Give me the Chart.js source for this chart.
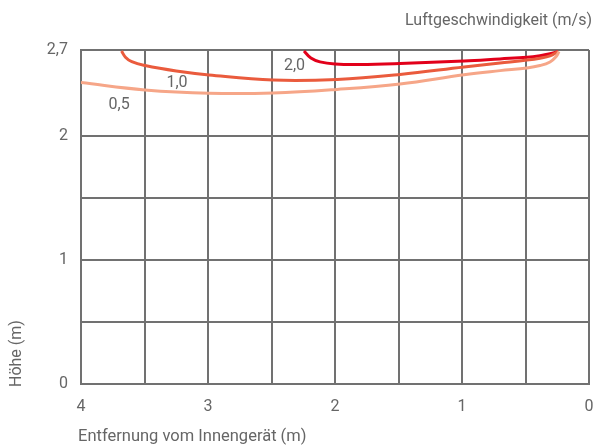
<!DOCTYPE html>
<html>
<head>
<meta charset="utf-8">
<script src="https://cdn.jsdelivr.net/npm/chart.js@4.4.1/dist/chart.umd.min.js"></script>
<style>
  html, body { margin: 0; padding: 0; background: #fff; }
</style>
</head>
<body>
<canvas id="chart" width="594" height="448"></canvas>
<script>
// Tick values (grid lines) and the ones that get a label
const xTicks = [0, 0.5, 1, 1.5, 2, 2.5, 3, 3.5, 4];
const xLabelled = [0, 1, 2, 3, 4];
const yTicks = [0, 0.5, 1, 1.5, 2, 2.7];
const yLabelled = [0, 1, 2, 2.7];

// Air speed curves: distance from indoor unit (m) / height (m)
const seriesNames = ['0,5', '1,0', '2,0'];
const speed05 = [
    {x: 4.0, y: 2.436}, {x: 3.496, y: 2.377}, {x: 2.992, y: 2.35}, {x: 2.488, y: 2.352},
    {x: 1.984, y: 2.381}, {x: 1.488, y: 2.425}, {x: 0.984, y: 2.500}, {x: 0.701, y: 2.533},
    {x: 0.488, y: 2.555}, {x: 0.386, y: 2.574}, {x: 0.307, y: 2.603}, {x: 0.26, y: 2.645},
    {x: 0.236, y: 2.688}
];
const speed10 = [
    {x: 3.681, y: 2.692}, {x: 3.65, y: 2.642}, {x: 3.60, y: 2.605}, {x: 3.496, y: 2.574},
    {x: 3.25, y: 2.530}, {x: 2.992, y: 2.498}, {x: 2.488, y: 2.457}, {x: 1.984, y: 2.462},
    {x: 1.488, y: 2.502}, {x: 0.984, y: 2.563}, {x: 0.701, y: 2.595}, {x: 0.488, y: 2.619},
    {x: 0.386, y: 2.634}, {x: 0.307, y: 2.652}, {x: 0.244, y: 2.687}
];
const speed20 = [
    {x: 2.244, y: 2.692}, {x: 2.19, y: 2.635}, {x: 2.118, y: 2.604}, {x: 2.0, y: 2.587},
    {x: 1.803, y: 2.583}, {x: 1.488, y: 2.591}, {x: 0.984, y: 2.611}, {x: 0.701, y: 2.628},
    {x: 0.488, y: 2.641}, {x: 0.386, y: 2.654}, {x: 0.307, y: 2.670}, {x: 0.244, y: 2.688}
];
// Where the curve names sit (data coordinates)
const labelPositions = [{x: 3.70, y: 2.251}, {x: 3.244, y: 2.433}, {x: 2.319, y: 2.573}];

const FONT = 'Roboto, "Liberation Sans", sans-serif';
const TEXT_COLOR = '#666666';
const GRID_COLOR = '#717171';
const lineColors = ['#f6a688', '#ea5b3d', '#e2001a'];

function fmt(v) {
    return String(v).replace('.', ',');
}

// Titles and curve names
const textPlugin = {
    id: 'texts',
    afterDraw(chart) {
        const ctx = chart.ctx;
        const xs = chart.scales.x, ys = chart.scales.y;
        ctx.save();
        ctx.fillStyle = TEXT_COLOR;
        ctx.font = '16px ' + FONT;

        ctx.textAlign = 'right';
        ctx.textBaseline = 'middle';
        ctx.fillText('Luftgeschwindigkeit (m/s)', 592, 21);

        ctx.textAlign = 'left';
        ctx.font = '16.5px ' + FONT;
        ctx.fillText('Entfernung vom Innengerät (m)', 78, 437);

        ctx.font = '16px ' + FONT;
        ctx.save();
        ctx.translate(17, 387);
        ctx.rotate(-Math.PI / 2);
        ctx.textAlign = 'left';
        ctx.fillText('Höhe (m)', 0, 0);
        ctx.restore();

        ctx.textAlign = 'center';
        labelPositions.forEach((p, i) => {
            ctx.fillText(seriesNames[i], xs.getPixelForValue(p.x), ys.getPixelForValue(p.y));
        });
        ctx.restore();
    }
};

const ctx = document.getElementById('chart').getContext('2d');
new Chart(ctx, {
    type: 'scatter',
    data: {
        datasets: [speed05, speed10, speed20].map((d, i) => ({
            label: seriesNames[i],
            data: d,
            showLine: true,
            borderColor: lineColors[i],
            borderWidth: 3,
            pointRadius: 0,
            fill: false,
            tension: 0.4
        }))
    },
    options: {
        responsive: false,
        animation: false,
        layout: { padding: { top: 50, right: 5, left: 0, bottom: 0 } },
        plugins: {
            legend: { display: false },
            tooltip: { enabled: false }
        },
        scales: {
            x: {
                type: 'linear',
                min: 0,
                max: 4,
                reverse: true,
                afterBuildTicks: scale => { scale.ticks = xTicks.map(v => ({ value: v })); },
                afterFit: scale => { scale.height = 64.5; },
                grid: { color: GRID_COLOR, lineWidth: 2, drawTicks: false },
                border: { color: GRID_COLOR, width: 2 },
                ticks: {
                    autoSkip: false,
                    maxRotation: 0,
                    padding: 14,
                    color: TEXT_COLOR,
                    font: { family: FONT, size: 16 },
                    callback: v => xLabelled.includes(v) ? fmt(v) : ''
                }
            },
            y: {
                type: 'linear',
                min: 0,
                max: 2.7,
                afterBuildTicks: scale => { scale.ticks = yTicks.map(v => ({ value: v })); },
                afterFit: scale => { scale.width = 81; },
                grid: { color: GRID_COLOR, lineWidth: 2, drawTicks: false },
                border: { color: GRID_COLOR, width: 2 },
                ticks: {
                    autoSkip: false,
                    padding: 13,
                    color: TEXT_COLOR,
                    font: { family: FONT, size: 16 },
                    callback: v => yLabelled.includes(v) ? fmt(v) : ''
                }
            }
        }
    },
    plugins: [textPlugin]
});
</script>
</body>
</html>
